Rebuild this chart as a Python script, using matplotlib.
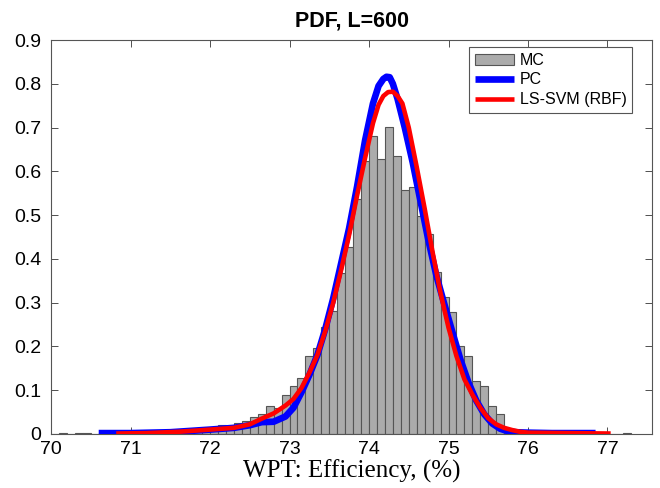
import numpy as np
import matplotlib
matplotlib.use('Agg')
import matplotlib.pyplot as plt

# ---------------- data ----------------
bin_start = 70.0
bin_width = 0.1
mc_density = [
    0.0, 0.002, 0.0, 0.002, 0.002, 0.0, 0.002, 0.0, 0.002, 0.003,      # 70.0-70.9
    0.002, 0.003, 0.003, 0.004, 0.004, 0.005, 0.005, 0.006, 0.007, 0.008,  # 71.0-71.9
    0.015, 0.021, 0.016, 0.025, 0.029, 0.039, 0.046, 0.063, 0.059, 0.088,  # 72.0-72.9
    0.109, 0.128, 0.178, 0.196, 0.244, 0.280, 0.367, 0.427, 0.537, 0.624,  # 73.0-73.9
    0.681, 0.628, 0.702, 0.634, 0.557, 0.565, 0.498, 0.456, 0.371, 0.314,  # 74.0-74.9
    0.278, 0.200, 0.179, 0.122, 0.109, 0.065, 0.046, 0.010, 0.006, 0.004,  # 75.0-75.9
    0.003, 0.002, 0.002, 0.001, 0.001, 0.001, 0.001, 0.0, 0.0, 0.0,        # 76.0-76.9
    0.0, 0.0, 0.002,                                                        # 77.0-77.2
]

pc_x = [70.60, 71.0, 71.5, 72.0, 72.3, 72.5, 72.65, 72.8, 72.95, 73.05,
        73.15, 73.25, 73.35, 73.45, 73.55, 73.65, 73.75, 73.85, 73.95, 74.05,
        74.12, 74.18, 74.22, 74.26, 74.30, 74.36, 74.45, 74.55, 74.65, 74.75,
        74.85, 74.95, 75.05, 75.15, 75.25, 75.35, 75.45, 75.55, 75.65, 75.75,
        75.85, 76.0, 76.3, 76.6, 76.85]
pc_y = [0.002, 0.002, 0.004, 0.010, 0.014, 0.020, 0.027, 0.028, 0.040, 0.060,
        0.095, 0.135, 0.180, 0.240, 0.310, 0.390, 0.470, 0.565, 0.670, 0.755,
        0.795, 0.811, 0.816, 0.815, 0.800, 0.765, 0.700, 0.620, 0.530, 0.440,
        0.360, 0.295, 0.232, 0.170, 0.118, 0.076, 0.045, 0.024, 0.012, 0.006,
        0.004, 0.003, 0.002, 0.002, 0.002]

svm_x = [70.82, 71.2, 71.6, 72.0, 72.3, 72.5, 72.65, 72.8, 72.95, 73.05,
         73.15, 73.25, 73.35, 73.45, 73.55, 73.65, 73.75, 73.85, 73.95, 74.05,
         74.12, 74.18, 74.24, 74.30, 74.36, 74.42, 74.50, 74.60, 74.70, 74.80,
         74.90, 75.00, 75.10, 75.20, 75.30, 75.40, 75.50, 75.60, 75.70, 75.80,
         75.90, 76.0, 76.5, 77.04]
svm_y = [0.001, 0.002, 0.005, 0.010, 0.014, 0.022, 0.035, 0.047, 0.065, 0.080,
         0.105, 0.140, 0.180, 0.235, 0.300, 0.375, 0.455, 0.545, 0.630, 0.710,
         0.752, 0.772, 0.781, 0.782, 0.772, 0.755, 0.700, 0.610, 0.515, 0.415,
         0.322, 0.243, 0.178, 0.125, 0.090, 0.060, 0.036, 0.022, 0.014, 0.009,
         0.005, 0.003, 0.002, 0.001]

x_ticks = [70, 71, 72, 73, 74, 75, 76, 77]
y_ticks = [0, 0.1, 0.2, 0.3, 0.4, 0.5, 0.6, 0.7, 0.8, 0.9]
y_ticklabels = ['0', '0.1', '0.2', '0.3', '0.4', '0.5', '0.6', '0.7', '0.8', '0.9']

# ---------------- plot ----------------
sans = ['Liberation Sans', 'DejaVu Sans']
serif = ['Liberation Serif', 'DejaVu Serif']

fig = plt.figure(figsize=(6.6, 4.88), dpi=100)
ax = fig.add_axes([0.0773, 0.1107, 0.9106, 0.8073])

lefts = [bin_start + i * bin_width for i in range(len(mc_density))]
h_mc = ax.bar(lefts, mc_density, width=bin_width, align='edge',
              color='#ababab', edgecolor='#555555', linewidth=0.8, label='MC', zorder=2)
h_pc, = ax.plot(pc_x, pc_y, color='#0000ff', linewidth=4.8, label='PC', zorder=3,
                solid_capstyle='butt')
h_svm, = ax.plot(svm_x, svm_y, color='#ff0000', linewidth=3.3, label='LS-SVM (RBF)',
                 zorder=4, solid_capstyle='butt')

ax.set_xlim(70, 77.56)
ax.set_ylim(0, 0.9)
ax.set_xticks(x_ticks)
ax.set_yticks(y_ticks)
ax.set_yticklabels(y_ticklabels)
ax.tick_params(direction='in', top=True, right=True, length=5, width=0.6,
               color='#333333', labelsize=14)
ax.tick_params(axis='y', pad=7)
ax.tick_params(axis='x', pad=5)
for lab in ax.get_xticklabels() + ax.get_yticklabels():
    lab.set_family(sans)
for s in ax.spines.values():
    s.set_color('#555555')
    s.set_linewidth(0.8)

ax.set_title('PDF, L=600', family=sans, fontsize=15.5, fontweight='bold', pad=10)
ax.set_xlabel('WPT: Efficiency, (%)', family=serif, fontsize=18, labelpad=1)

leg = ax.legend([h_mc, h_pc, h_svm], ['MC', 'PC', 'LS-SVM (RBF)'],
                loc='upper right', bbox_to_anchor=(0.967, 0.982), borderaxespad=0,
                prop={'family': sans, 'size': 11.5}, handlelength=2.45, handletextpad=0.35,
                labelspacing=0.3, borderpad=0.35, fancybox=False, framealpha=1,
                edgecolor='#555555')
leg.get_frame().set_linewidth(0.8)

fig.savefig('out.png', dpi=100)
